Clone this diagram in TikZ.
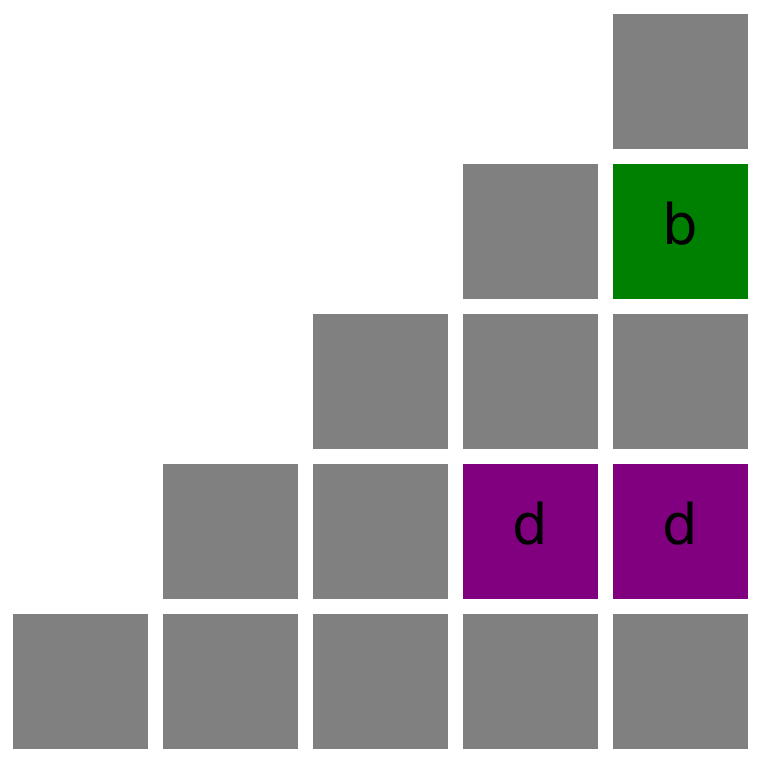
\documentclass[tikz,border=0pt]{standalone}
\usepackage{fontspec}
\setmainfont{DejaVu Sans}
\definecolor{cellgray}{HTML}{808080}
\definecolor{cellgreen}{HTML}{008000}
\definecolor{cellpurple}{HTML}{800080}

\begin{document}
\begin{tikzpicture}[x=0.5pt,y=0.5pt]
	% one unit is one pixel of the 760x765 canvas
	\useasboundingbox (0,0) rectangle (760,765);
	\tikzset{
		cell/.style={minimum size=67.5pt,inner sep=0pt,fill=cellgray,
			font=\fontsize{28}{30}\selectfont,text depth=8pt},
	}

	% The staircase: column \c holds the rows 0..\c
	% Each cell is listed with its colour and its letter:
	\foreach \c/\r/\col/\txt in {0/0/cellgray/,
			1/0/cellgray/,1/1/cellgray/,
			2/0/cellgray/,2/1/cellgray/,2/2/cellgray/,
			3/0/cellgray/,3/1/cellpurple/d,3/2/cellgray/,3/3/cellgray/,
			4/0/cellgray/,4/1/cellpurple/d,4/2/cellgray/,4/3/cellgreen/b,4/4/cellgray/}
	{
		\node [cell,fill=\col] (cell-\c-\r) at (80.5+150*\c,83.5+150*\r) {\txt};
	}
\end{tikzpicture}
\end{document}
